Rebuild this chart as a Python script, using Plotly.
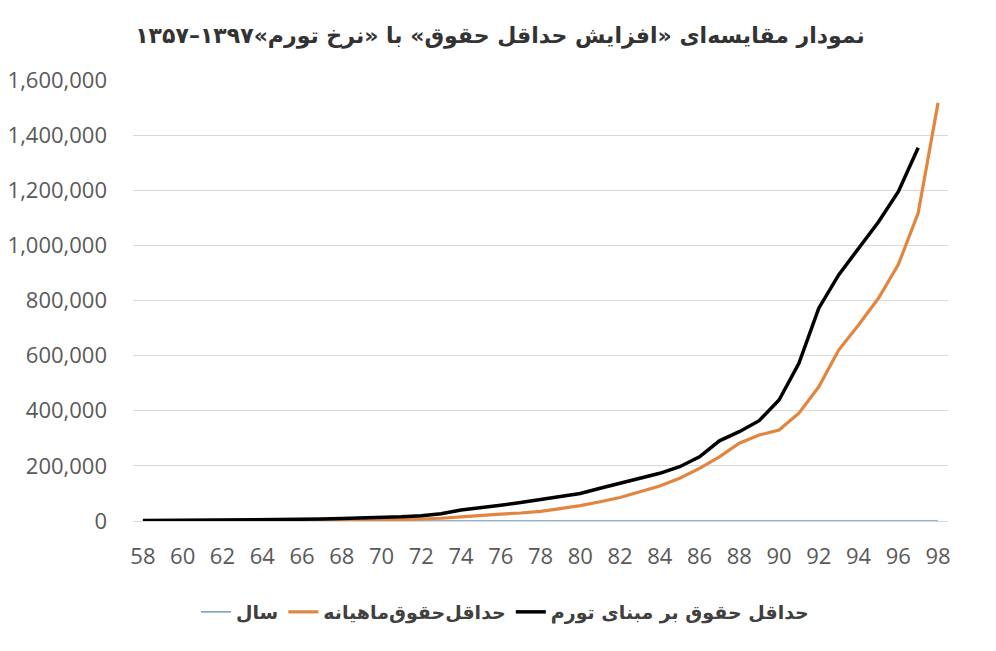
import plotly.graph_objects as go

years = list(range(58, 99))
year_series = list(range(58, 99))

min_wage = [700, 800, 900, 1000, 1100, 1200, 1400, 1600, 2000, 2400,
            3000, 3500, 4200, 5000, 7000, 10000, 15000, 21000, 25000, 29000,
            35000, 45000, 56000, 70000, 85000, 106000, 127000, 155000, 191000, 233000,
            282000, 312000, 330000, 391000, 487000, 620000, 711000, 808000, 930000, 1117000,
            1517000]

inflation_wage = [1500, 2000, 2300, 2600, 2900, 3200, 3500, 4200, 5500, 7000,
                  9000, 10500, 13000, 15000, 19000, 26000, 40000, 47000, 57000, 67000,
                  78000, 88000, 100000, 119000, 137000, 155000, 173000, 197000, 233000, 291000,
                  324000, 364000, 439000, 572000, 772000, 893000, 990000, 1085000, 1195000, 1354000]

y_ticks = [0, 200000, 400000, 600000, 800000, 1000000, 1200000, 1400000, 1600000]
x_ticks = list(range(58, 99, 2))

title_text = "نمودار مقایسه‌ای «افزایش حداقل حقوق» با «نرخ تورم»۱۳۹۷–۱۳۵۷"
name_year = "سال"
name_min = "حداقل‌حقوق‌ماهیانه"
name_infl = "حداقل حقوق بر مبنای تورم"

fig = go.Figure()
fig.add_trace(go.Scatter(x=years, y=year_series, mode="lines", name=name_year,
                         line=dict(color="#6E9BC5", width=1.5)))
fig.add_trace(go.Scatter(x=years, y=min_wage, mode="lines", name=name_min,
                         line=dict(color="#E2853F", width=3.2)))
fig.add_trace(go.Scatter(x=years[:len(inflation_wage)], y=inflation_wage, mode="lines", name=name_infl,
                         line=dict(color="#000000", width=3.5)))

fig.update_layout(
    width=996, height=651,
    margin=dict(l=133, r=48, t=80, b=130),
    paper_bgcolor="white", plot_bgcolor="white",
    title=dict(text=title_text, x=(500 - 133) / 815, xref="paper", xanchor="center",
               y=1 - 35 / 651, yanchor="middle",
               font=dict(family="DejaVu Sans", size=22, color="#333333", weight=700)),
    showlegend=True,
    legend=dict(orientation="h", x=(505 - 133) / 815, xanchor="center",
                y=-(612 - 521) / 441, yanchor="middle",
                font=dict(family="DejaVu Sans", size=19, color="#404040", weight=700),
                itemwidth=30, tracegroupgap=0),
    hovermode=False,
)
fig.update_xaxes(range=[57.5, 98.5], tickmode="array", tickvals=x_ticks,
                 ticktext=[str(v) for v in x_ticks], automargin=False,
                 showgrid=False, showline=True, linecolor="#D9D9D9", linewidth=1,
                 zeroline=False, ticks="", ticklabelstandoff=16,
                 tickfont=dict(family="Open Sans", size=22, color="#595959"))
fig.update_yaxes(range=[0, 1600000], tickmode="array", tickvals=y_ticks, automargin=False,
                 tickformat=",d", showgrid=True, gridcolor="#D9D9D9", gridwidth=1,
                 zeroline=False, showline=False, ticks="", ticklabelstandoff=25,
                 tickfont=dict(family="Open Sans", size=22, color="#595959"))

fig.write_html("out.html")
